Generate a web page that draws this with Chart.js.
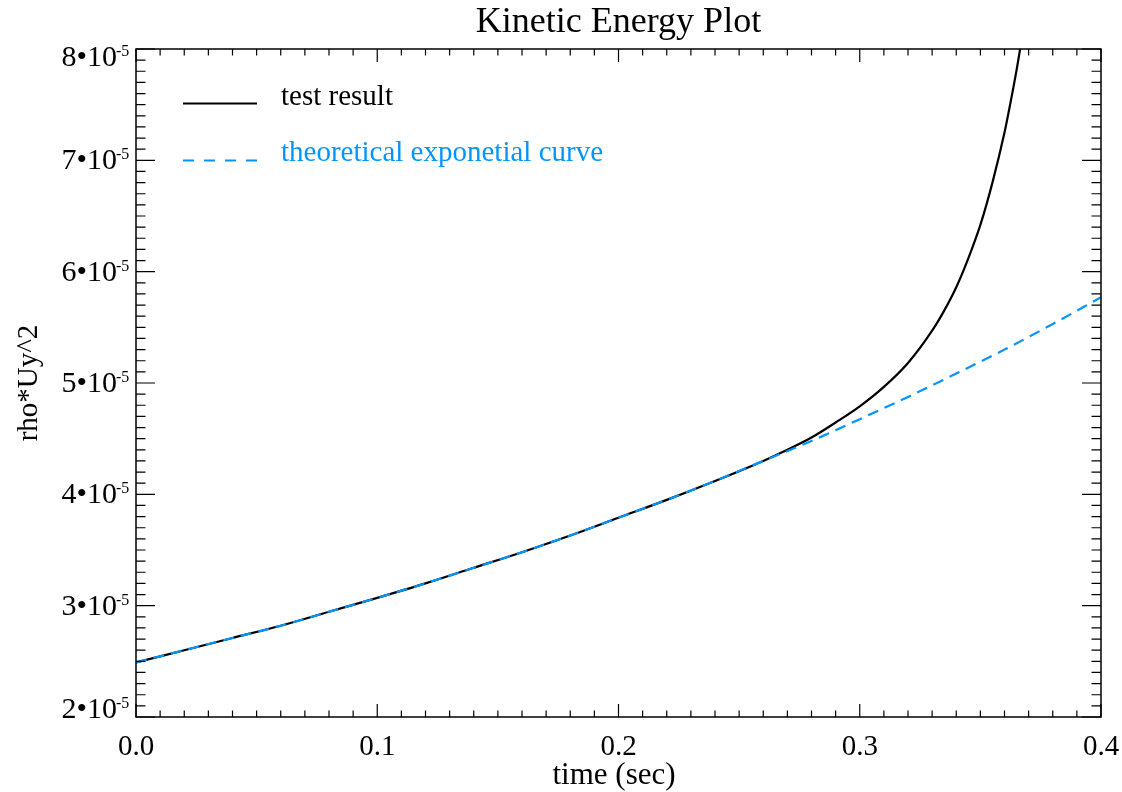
<!DOCTYPE html>
<html><head><meta charset="utf-8">
<script src="https://cdn.jsdelivr.net/npm/chart.js@4/dist/chart.umd.min.js"></script>
<style>html,body{margin:0;padding:0;background:#fff;overflow:hidden}canvas{display:block}</style>
</head><body>
<canvas id="c" width="1122" height="792"></canvas>
<script>
// ---- data ----
const titleText = 'Kinetic Energy Plot';
const xAxisTitle = 'time (sec)';
const yAxisTitle = 'rho*Uy^2';
const seriesNames = ['test result', 'theoretical exponetial curve'];
const xMajorTicks = [0.0, 0.1, 0.2, 0.3, 0.4];
const xTickLabels = ['0.0', '0.1', '0.2', '0.3', '0.4'];
const yMajorTicks = [2e-5, 3e-5, 4e-5, 5e-5, 6e-5, 7e-5, 8e-5];
const yTickMantissas = ['2', '3', '4', '5', '6', '7', '8'];
const yTickExponent = '-5';

const theoryTime  = [0.00, 0.02, 0.04, 0.06, 0.08, 0.10, 0.12, 0.14, 0.16, 0.18, 0.20,
                     0.22, 0.24, 0.26, 0.28, 0.30, 0.32, 0.34, 0.36, 0.38, 0.40];
const theoryValue = [2.49e-5, 2.60e-5, 2.71e-5, 2.82e-5, 2.945e-5, 3.07e-5, 3.20e-5, 3.34e-5, 3.48e-5, 3.63e-5, 3.79e-5,
                     3.95e-5, 4.12e-5, 4.30e-5, 4.48e-5, 4.675e-5, 4.875e-5, 5.085e-5, 5.30e-5, 5.53e-5, 5.77e-5];

const testTime  = [0.00, 0.02, 0.04, 0.06, 0.08, 0.10, 0.12, 0.14, 0.16, 0.18, 0.20,
                   0.22, 0.24, 0.26, 0.27, 0.28, 0.29, 0.30, 0.31, 0.32, 0.33, 0.335, 0.34,
                   0.345, 0.35, 0.355, 0.36, 0.3625, 0.365, 0.3675, 0.37];
const testValue = [2.49e-5, 2.60e-5, 2.71e-5, 2.82e-5, 2.945e-5, 3.07e-5, 3.20e-5, 3.34e-5, 3.48e-5, 3.63e-5, 3.79e-5,
                   3.95e-5, 4.12e-5, 4.30e-5, 4.40e-5, 4.51e-5, 4.645e-5, 4.79e-5, 4.965e-5, 5.18e-5, 5.47e-5, 5.65e-5, 5.86e-5,
                   6.12e-5, 6.42e-5, 6.80e-5, 7.25e-5, 7.52e-5, 7.81e-5, 8.14e-5, 8.50e-5];

// ---- styles ----
const SERIF = '"Liberation Serif", "Times New Roman", serif';
const BLUE = 'rgb(0,150,255)';

const toPts = (xs, ys) => xs.map((x, i) => ({x: x, y: ys[i]}));

const framePlugin = {
  id: 'idlFrame',
  afterDraw(chart) {
    const ctx = chart.ctx;
    const a = chart.chartArea;
    const xs = chart.scales.x, ys = chart.scales.y;
    ctx.save();
    // frame
    ctx.strokeStyle = '#000';
    ctx.lineWidth = 1.5;
    ctx.strokeRect(a.left, a.top, a.right - a.left, a.bottom - a.top);
    // ticks (inside)
    ctx.lineWidth = 1.2;
    ctx.beginPath();
    for (let i = 0; i < xMajorTicks.length; i++) {
      const v = xMajorTicks[i];
      const px = xs.getPixelForValue(v);
      ctx.moveTo(px, a.bottom); ctx.lineTo(px, a.bottom - 13);
      ctx.moveTo(px, a.top); ctx.lineTo(px, a.top + 13);
      if (i < xMajorTicks.length - 1) {
        const step = (xMajorTicks[i + 1] - v) / 10;
        for (let k = 1; k < 10; k++) {
          const mx = xs.getPixelForValue(v + k * step);
          ctx.moveTo(mx, a.bottom); ctx.lineTo(mx, a.bottom - 6.5);
          ctx.moveTo(mx, a.top); ctx.lineTo(mx, a.top + 6.5);
        }
      }
    }
    for (let i = 0; i < yMajorTicks.length; i++) {
      const v = yMajorTicks[i];
      const py = ys.getPixelForValue(v);
      ctx.moveTo(a.left, py); ctx.lineTo(a.left + 19, py);
      ctx.moveTo(a.right, py); ctx.lineTo(a.right - 19, py);
      if (i < yMajorTicks.length - 1) {
        const step = (yMajorTicks[i + 1] - v) / 10;
        for (let k = 1; k < 10; k++) {
          const my = ys.getPixelForValue(v + k * step);
          ctx.moveTo(a.left, my); ctx.lineTo(a.left + 9.5, my);
          ctx.moveTo(a.right, my); ctx.lineTo(a.right - 9.5, my);
        }
      }
    }
    ctx.stroke();

    ctx.fillStyle = '#000';
    // x tick labels
    ctx.font = '29px ' + SERIF;
    ctx.textAlign = 'center';
    ctx.textBaseline = 'alphabetic';
    xMajorTicks.forEach((v, i) => {
      ctx.fillText(xTickLabels[i], xs.getPixelForValue(v), a.bottom + 38);
    });
    // y tick labels  m•10^-5
    yMajorTicks.forEach((v, i) => {
      let py = ys.getPixelForValue(v);
      py = Math.min(Math.max(py, a.top + 8), a.bottom - 8);
      ctx.font = '30px ' + SERIF;
      ctx.textAlign = 'right';
      ctx.fillText(yTickMantissas[i] + '\u202210', a.left - 19, py + 9);
      ctx.font = '16px ' + SERIF;
      ctx.textAlign = 'left';
      ctx.fillText(yTickExponent, a.left - 20, py - 1);
    });
    // title
    ctx.font = '36px ' + SERIF;
    ctx.textAlign = 'center';
    ctx.fillText(titleText, (a.left + a.right) / 2, 32);
    // x axis title
    ctx.font = '31px ' + SERIF;
    ctx.fillText(xAxisTitle, 614, 784);
    // y axis title
    ctx.font = '29px ' + SERIF;
    ctx.save();
    ctx.translate(37, (a.top + a.bottom) / 2);
    ctx.rotate(-Math.PI / 2);
    ctx.fillText(yAxisTitle, 0, 0);
    ctx.restore();
    // legend
    ctx.lineWidth = 2;
    ctx.strokeStyle = '#000';
    ctx.setLineDash([]);
    ctx.beginPath(); ctx.moveTo(183, 103.5); ctx.lineTo(257, 103.5); ctx.stroke();
    ctx.strokeStyle = BLUE;
    ctx.setLineDash([11, 10]);
    ctx.beginPath(); ctx.moveTo(183, 160.5); ctx.lineTo(257, 160.5); ctx.stroke();
    ctx.setLineDash([]);
    ctx.font = '29px ' + SERIF;
    ctx.textAlign = 'left';
    ctx.fillStyle = '#000';
    ctx.fillText(seriesNames[0], 281, 105);
    ctx.fillStyle = BLUE;
    ctx.fillText(seriesNames[1], 281, 161);
    ctx.restore();
  }
};

new Chart(document.getElementById('c'), {
  type: 'scatter',
  data: {
    datasets: [
      {
        label: seriesNames[1],
        data: toPts(theoryTime, theoryValue),
        showLine: true,
        borderColor: BLUE,
        borderWidth: 2.2,
        borderDash: [11, 7],
        pointRadius: 0,
        cubicInterpolationMode: 'monotone',
        order: 1
      },
      {
        label: seriesNames[0],
        data: toPts(testTime, testValue),
        showLine: true,
        borderColor: '#000',
        borderWidth: 2.2,
        pointRadius: 0,
        cubicInterpolationMode: 'monotone',
        order: 2
      }
    ]
  },
  options: {
    responsive: false,
    animation: false,
    devicePixelRatio: 1,
    layout: { padding: { left: 136, right: 21, top: 49, bottom: 75 } },
    plugins: { legend: { display: false }, title: { display: false }, tooltip: { enabled: false } },
    scales: {
      x: {
        type: 'linear', min: 0, max: 0.4,
        afterBuildTicks: s => { s.ticks = xMajorTicks.map(v => ({value: v})); },
        ticks: { display: false },
        grid: { display: false, drawTicks: false },
        border: { display: false }
      },
      y: {
        type: 'linear', min: 2e-5, max: 8e-5,
        afterBuildTicks: s => { s.ticks = yMajorTicks.map(v => ({value: v})); },
        ticks: { display: false },
        grid: { display: false, drawTicks: false },
        border: { display: false }
      }
    }
  },
  plugins: [framePlugin]
});
</script>
</body></html>
